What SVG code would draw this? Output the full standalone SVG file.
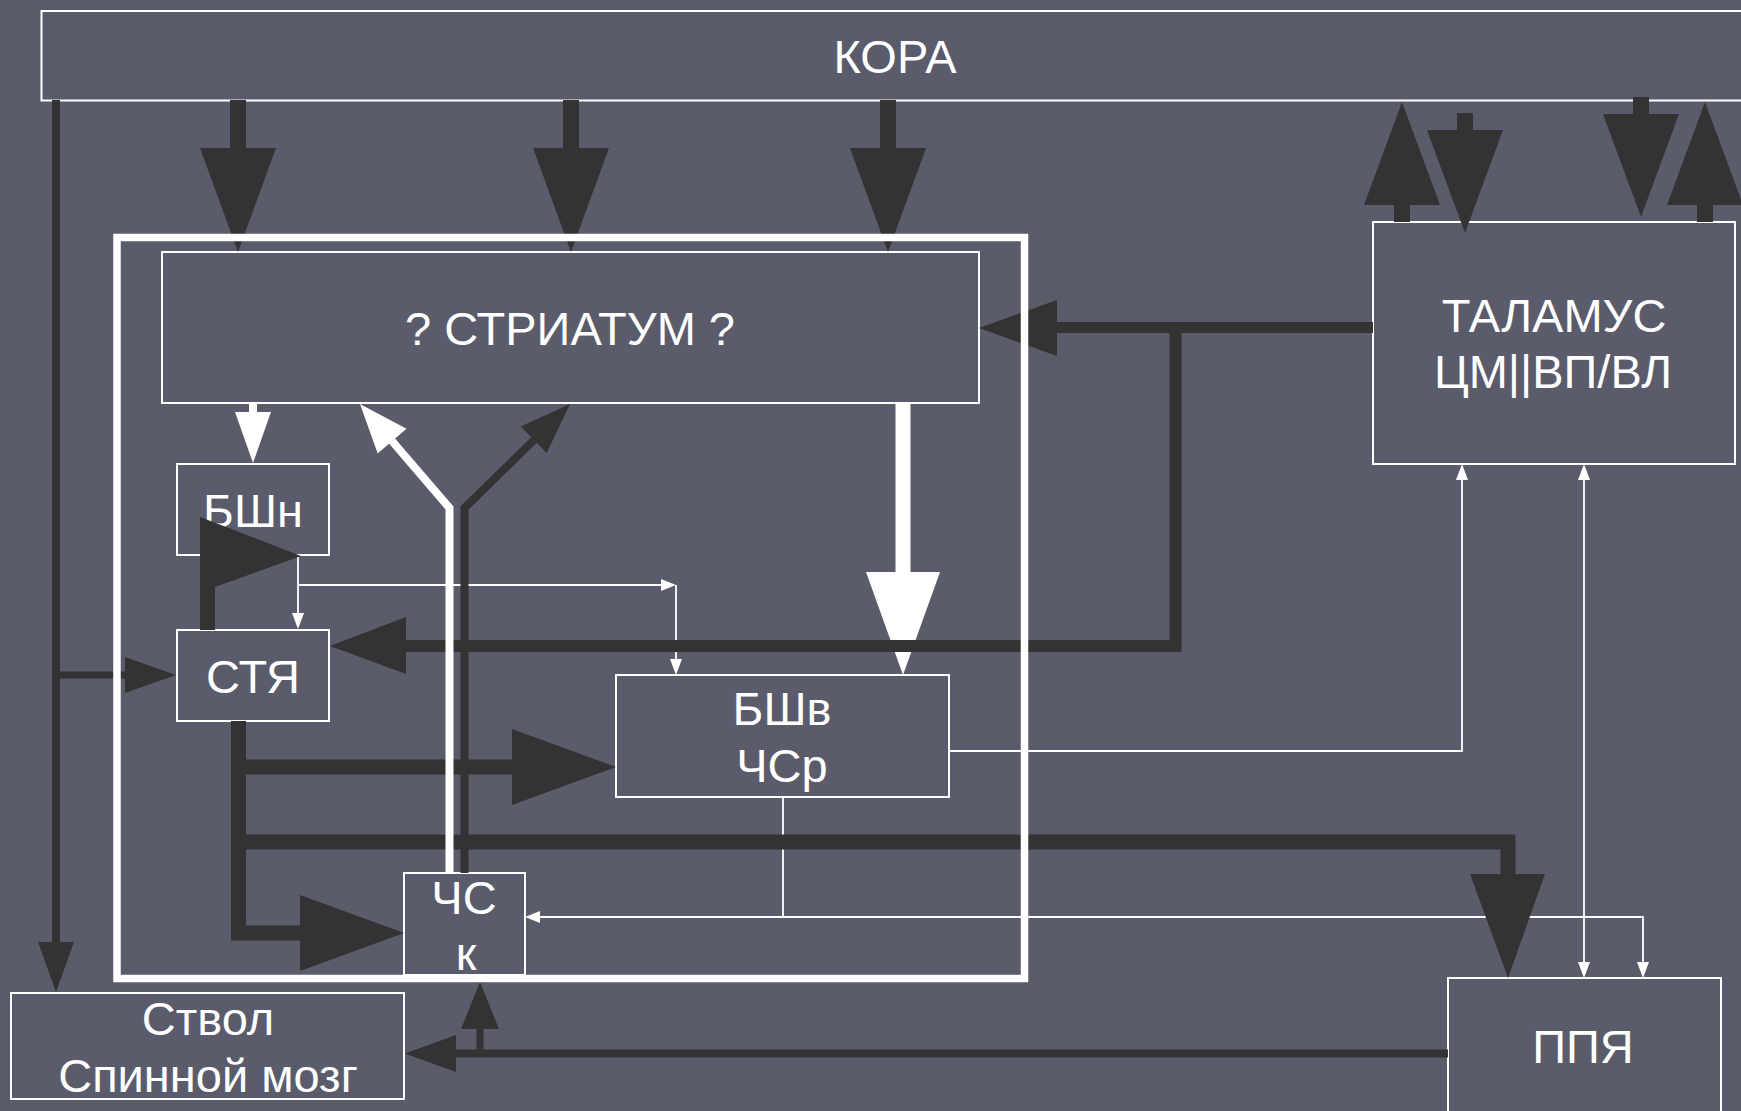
<svg xmlns="http://www.w3.org/2000/svg" width="1741" height="1111" viewBox="0 0 1741 1111">
<style>
.box{fill:none;stroke:#ffffff;stroke-width:2}
.lbl{fill:#ffffff;font-family:"Liberation Sans",Arial,sans-serif;font-size:47px;text-anchor:middle}
.dk{fill:#333333}
.dkl{fill:none;stroke:#333333;stroke-linejoin:miter}
.wh{fill:#ffffff}
.whl{fill:none;stroke:#ffffff}
.thin{fill:none;stroke:#ffffff;stroke-width:1.8}
.frame{fill:none;stroke:#ffffff;stroke-width:7.5}
</style>
<rect x="0" y="0" width="1741" height="1111" fill="#5a5b6b"/>

<g id="kora"><rect class="box" x="41.5" y="11" width="1720" height="89.5"/><text class="lbl" x="895" y="73">КОРА</text></g>
<g id="striatum"><rect class="box" x="162" y="252" width="817" height="151"/><text class="lbl" x="570" y="345">? СТРИАТУМ ?</text></g>
<g id="bshn"><rect class="box" x="177" y="464" width="152" height="91"/><text class="lbl" x="253" y="527">БШн</text></g>
<g id="stya"><rect class="box" x="177" y="630" width="152" height="91"/><text class="lbl" x="253" y="693">СТЯ</text></g>
<g id="bshv"><rect class="box" x="616" y="675" width="333" height="122"/><text class="lbl" x="782" y="725">БШв</text><text class="lbl" x="782" y="782">ЧСр</text></g>
<g id="chsk"><rect class="box" x="404" y="873" width="121" height="102"/><text class="lbl" x="464" y="914">ЧС</text><text class="lbl" x="466" y="970">к</text></g>
<g id="stvol"><rect class="box" x="11" y="993" width="393" height="106"/><text class="lbl" x="208" y="1035">Ствол</text><text class="lbl" x="208" y="1092">Спинной мозг</text></g>
<g id="thalamus"><rect class="box" x="1373" y="222" width="362" height="242"/><text class="lbl" x="1554" y="332">ТАЛАМУС</text><text class="lbl" x="1553" y="388">ЦМ||ВП/ВЛ</text></g>
<g id="ppya"><rect class="box" x="1448" y="978" width="273" height="160"/><text class="lbl" x="1583" y="1063">ППЯ</text></g>

<g id="connectors">
  <!-- thin white connectors -->
  <path class="thin" d="M298,556 V613 M298,585 H661 M676,585 V659"/>
  <polygon class="wh" points="292,613 304,613 298,629"/>
  <polygon class="wh" points="661,579 661,591 676,585"/>
  <polygon class="wh" points="670,659 682,659 676,675"/>
  <path class="thin" d="M949,751 H1462 V480"/>
  <polygon class="wh" points="1456,480 1468,480 1462,464"/>
  <path class="thin" d="M1584,480 V962"/>
  <polygon class="wh" points="1578,480 1590,480 1584,464"/>
  <polygon class="wh" points="1578,962 1590,962 1584,978"/>
  <path class="thin" d="M783,797 V917 M540,917 H1643 V962"/>
  <polygon class="wh" points="540,911 540,923 525,917"/>
  <polygon class="wh" points="1637,962 1649,962 1643,978"/>

  <!-- white thick arrows from striatum -->
  <rect class="wh" x="249" y="403" width="8" height="10"/>
  <polygon class="wh" points="235,412 271,412 253,463"/>
  <rect class="wh" x="895.5" y="403" width="15" height="170"/>
  <polygon class="wh" points="866,572 940,572 903,675"/>

  <!-- KORA to striatum -->
  <rect class="dk" x="230" y="100" width="16" height="49"/>
  <polygon class="dk" points="200,148 276,148 238,252"/>
  <rect class="dk" x="563" y="100" width="16" height="49"/>
  <polygon class="dk" points="533,148 609,148 571,252"/>
  <rect class="dk" x="880" y="100" width="16" height="49"/>
  <polygon class="dk" points="850,148 926,148 888,252"/>

  <!-- thalamus <-> KORA -->
  <rect class="dk" x="1394" y="204" width="16" height="18"/>
  <polygon class="dk" points="1364,205 1440,205 1402,102"/>
  <rect class="dk" x="1457" y="113" width="16" height="18"/>
  <polygon class="dk" points="1427,130 1503,130 1465,233"/>
  <rect class="dk" x="1633" y="97" width="16" height="18"/>
  <polygon class="dk" points="1603,114 1679,114 1641,217"/>
  <rect class="dk" x="1697" y="204" width="16" height="18"/>
  <polygon class="dk" points="1667,205 1743,205 1705,102"/>

  <!-- KORA to stem, branch to STYA -->
  <path class="dkl" stroke-width="8" d="M56,100 V943"/>
  <polygon class="dk" points="38,942 74,942 56,992"/>
  <path class="dkl" stroke-width="7" d="M56,675 H126"/>
  <polygon class="dk" points="125,657 125,693 176,675"/>

  <!-- thalamus to striatum and STYA -->
  <path class="dkl" stroke-width="11" d="M1373,327.5 H1056"/>
  <polygon class="dk" points="1057,300 1057,356 979,328"/>
  <path class="dkl" stroke-width="12" d="M1175.5,322 V646 H405"/>
  <polygon class="dk" points="406,617 406,674 330,646"/>

  <!-- STYA to BShn (flag) -->
  <polygon class="dk" points="200,517 301,556 215,587 215,630 200,630"/>

  <!-- STYA outputs -->
  <path class="dkl" stroke-width="15" d="M238.5,721 V933 H301"/>
  <polygon class="dk" points="300,895 300,971 404,933"/>
  <path class="dkl" stroke-width="15" d="M238.5,767 H513"/>
  <polygon class="dk" points="512,729 512,805 616,767"/>
  <path class="dkl" stroke-width="15" d="M238.5,842 H1508 V875"/>
  <polygon class="dk" points="1470,874 1545,874 1508,978"/>

  <!-- PPYA to stem and ChS -->
  <path class="dkl" stroke-width="8" d="M1448,1053.5 H455"/>
  <polygon class="dk" points="456,1035 456,1072 405,1053.5"/>
  <path class="dkl" stroke-width="7" d="M480,1053 V1028"/>
  <polygon class="dk" points="461,1029 499,1029 480,982"/>

  <!-- ChS to striatum (Y) -->
  <path class="dkl" stroke-width="8" d="M464.5,873 V508 L534,440"/>
  <polygon class="dk" points="546.7,453 520.7,426.6 570,404"/>
  <path class="whl" stroke-width="8" d="M449.5,873 V508 L392,441"/>
  <polygon class="wh" points="406.5,428.7 377.7,453.5 360,404"/>
</g>

<g id="basal-ganglia">
  <rect class="frame" x="117" y="237.5" width="907.5" height="741"/>
</g>
</svg>
